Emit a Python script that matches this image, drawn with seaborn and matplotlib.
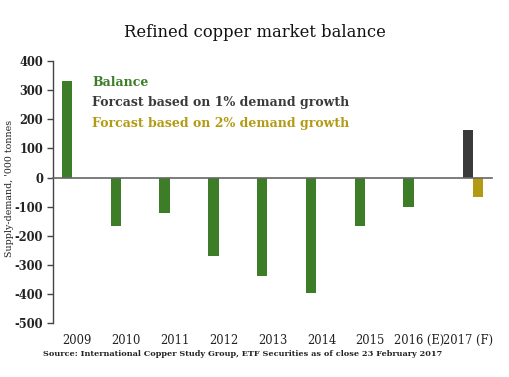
import numpy as np
import pandas as pd
import matplotlib
matplotlib.use('Agg')
import matplotlib.pyplot as plt
import matplotlib.transforms as mtransforms
import seaborn as sns

# data
years = ['2009', '2010', '2011', '2012', '2013', '2014', '2015', '2016 (E)', '2017 (F)']
balance = [330, -167, -121, -270, -337, -397, -165, -100]
forecast_1pct = 164
forecast_2pct = -68
series_names = ['Balance', 'Forcast based on 1% demand growth', 'Forcast based on 2% demand growth']
colours = ['#3d7d27', '#3a3a3a', '#b39a12']

rows = [(y, series_names[0], v) for y, v in zip(years[:-1], balance)]
rows.append((years[-1], series_names[1], forecast_1pct))
rows.append((years[-1], series_names[2], forecast_2pct))
df = pd.DataFrame(rows, columns=['year', 'series', 'value'])

sns.set_style('white')
plt.rcParams['font.family'] = ['DejaVu Serif']
plt.rcParams['axes.unicode_minus'] = False

fig = plt.figure(figsize=(5.09, 3.77), dpi=100)
ax = fig.add_axes([0.104, 0.143, 0.863, 0.695])

sns.barplot(data=df, x='year', y='value', hue='series', order=years,
            hue_order=series_names, palette=colours, width=0.64,
            saturation=1, legend=False, linewidth=0, ax=ax)

ax.set_ylim(-500, 400)
ax.set_yticks(np.arange(-500, 401, 100))
ax.set_xlim(-0.5, len(years) - 0.5)
ax.set_xlabel('')
ax.set_ylabel('')

# x axis sits on zero, ticks between categories
for s in ['top', 'right']:
    ax.spines[s].set_visible(False)
ax.spines['bottom'].set_position(('data', 0))
ax.spines['bottom'].set_color('#666666')
ax.spines['left'].set_color('#444444')
ax.spines['bottom'].set_linewidth(1.2)
ax.spines['left'].set_linewidth(1.0)
ax.set_xticks(np.arange(len(years)) + 0.5, minor=True)
ax.set_xticks(np.arange(len(years)))
ax.set_xticklabels([])
ax.tick_params(axis='x', which='major', length=0)
ax.tick_params(axis='x', which='minor', length=4, direction='out', color='#444444', width=1)
ax.tick_params(axis='y', length=4, direction='out', color='#444444', width=1,
               labelsize=8.3, left=True, pad=3)
for t in ax.get_yticklabels():
    t.set_fontweight('bold')
    t.set_color('#222222')

trans = mtransforms.blended_transform_factory(ax.transData, ax.transAxes)
for i, lab in enumerate(years):
    ax.text(i, -0.065, lab, transform=trans, ha='center', va='center',
            fontsize=8.3, color='#222222')

# coloured text legend
for k, (name, col) in enumerate(zip(series_names, colours)):
    ax.text(0.09, 0.92 - k * 0.08, name, transform=ax.transAxes, color=col,
            fontsize=9, fontweight='bold', va='center', ha='left')

fig.text(0.5, 0.915, 'Refined copper market balance', ha='center', va='center',
         fontsize=11.8, color='#111111')
fig.text(0.018, 0.5, "Supply-demand, '000 tonnes", rotation=90, ha='center',
         va='center', fontsize=6.8, color='#222222')
fig.text(0.477, 0.061, 'Source: International Copper Study Group, ETF Securities as of close 23 February 2017',
         ha='center', va='center', fontsize=5.9, fontweight='bold', color='#222222')

fig.savefig('out.png', dpi=100)
